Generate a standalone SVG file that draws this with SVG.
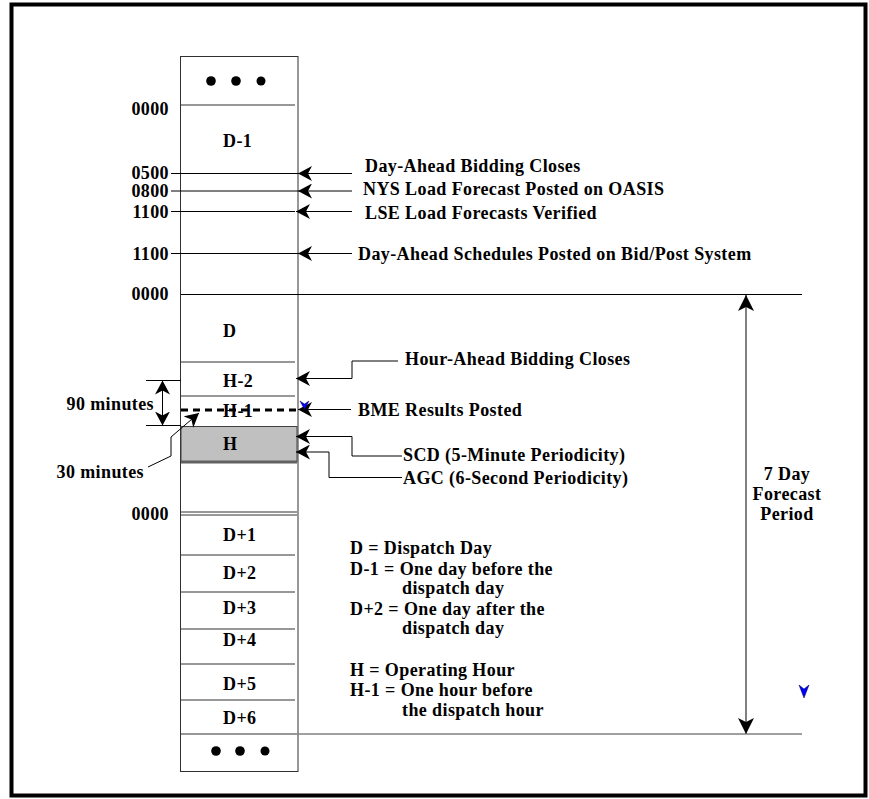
<svg xmlns="http://www.w3.org/2000/svg" width="869" height="799" viewBox="0 0 869 799">
<style>
text{font-family:"Liberation Serif","Times New Roman",serif;font-weight:bold;font-size:18px;letter-spacing:0.4px;fill:#000}
.lbl{text-anchor:end}
.cell{fill:none;stroke:#303030;stroke-width:1}
.sep{stroke:#303030;stroke-width:1;fill:none}
.con{stroke:#000;stroke-width:1;fill:none}
.arr{marker-end:url(#ah)}
.dot{fill:#000}
.blue{fill:#0000ff;stroke:#000040;stroke-width:0.5}
</style>
<defs>
<marker id="ah" viewBox="0 0 14 15" refX="14" refY="7.5" markerWidth="14" markerHeight="15" markerUnits="userSpaceOnUse" orient="auto">
<path d="M0,0 L14,7.5 L0,15 L4,7.5 z" fill="#000"/>
</marker>
<marker id="ahb" viewBox="0 0 16 16" refX="16" refY="8" markerWidth="16" markerHeight="16" markerUnits="userSpaceOnUse" orient="auto">
<path d="M0,0 L16,8 L0,16 L4,8 z" fill="#000"/>
</marker>
</defs>
<rect id="frame" x="11.5" y="4.5" width="854" height="791" fill="#fff" stroke="#000" stroke-width="4"/>

<g id="column">
<rect x="180.5" y="56.5" width="117.5" height="715" class="cell"/>
<g id="cell-top-dots"><circle class="dot" cx="211" cy="81" r="4.8"/><circle class="dot" cx="236" cy="81" r="4.8"/><circle class="dot" cx="261" cy="81" r="4.5"/></g>
<g id="cell-D-1"><line class="sep" x1="181" y1="105" x2="295" y2="105"/><text x="223" y="147">D-1</text></g>
<g id="cell-D"><text x="223" y="337">D</text></g>
<g id="cell-H-2"><line class="sep" x1="181" y1="362" x2="295" y2="362"/><text x="223" y="387">H-2</text></g>
<g id="cell-H-1"><line class="sep" x1="181" y1="396" x2="295" y2="396"/><text x="223" y="417">H-1</text>
<line x1="181" y1="410" x2="297" y2="410" stroke="#000" stroke-width="3" stroke-dasharray="7,5"/></g>
<g id="cell-H"><rect x="181" y="426.5" width="116" height="35" fill="#c0c0c0" stroke="#404040" stroke-width="1"/><line x1="181" y1="462" x2="297" y2="462" stroke="#606060" stroke-width="3"/><text x="223" y="450">H</text></g>
<g id="cell-D+1"><line class="sep" x1="181" y1="512" x2="297" y2="512"/><line class="sep" x1="181" y1="515" x2="297" y2="515"/><text x="223" y="541">D+1</text></g>
<g id="cell-D+2"><line class="sep" x1="181" y1="555" x2="295" y2="555"/><text x="223" y="579">D+2</text></g>
<g id="cell-D+3"><line class="sep" x1="181" y1="592" x2="295" y2="592"/><text x="223" y="614">D+3</text></g>
<g id="cell-D+4"><line class="sep" x1="181" y1="629" x2="295" y2="629"/><text x="223" y="646">D+4</text></g>
<g id="cell-D+5"><line class="sep" x1="181" y1="664" x2="295" y2="664"/><text x="223" y="690">D+5</text></g>
<g id="cell-D+6"><line class="sep" x1="181" y1="700" x2="295" y2="700"/><text x="223" y="724">D+6</text></g>
<g id="cell-bottom-dots"><line class="sep" x1="181" y1="734" x2="296" y2="734"/><circle class="dot" cx="216" cy="751" r="4.8"/><circle class="dot" cx="240" cy="751" r="4.8"/><circle class="dot" cx="265" cy="751" r="4.5"/></g>
</g>

<g id="time-labels">
<text class="lbl" x="169" y="115">0000</text>
<text class="lbl" x="169" y="179">0500</text>
<text class="lbl" x="169" y="197">0800</text>
<text class="lbl" x="169" y="218">1100</text>
<text class="lbl" x="169" y="260">1100</text>
<text class="lbl" x="169" y="300">0000</text>
<text class="lbl" x="169" y="520">0000</text>
</g>

<g id="event-labels">
<text x="365" y="172">Day-Ahead Bidding Closes</text>
<text x="363" y="195">NYS Load Forecast Posted on OASIS</text>
<text x="365" y="219">LSE Load Forecasts Verified</text>
<text x="358" y="260">Day-Ahead Schedules Posted on Bid/Post System</text>
<text x="405" y="365">Hour-Ahead Bidding Closes</text>
<text x="358" y="416">BME Results Posted</text>
<text x="403" y="461">SCD (5-Minute Periodicity)</text>
<text x="403" y="484">AGC (6-Second Periodicity)</text>
</g>

<g id="duration-labels">
<text class="lbl" x="154" y="410">90 minutes</text>
<text class="lbl" x="144" y="478">30 minutes</text>
<text x="787" y="480" text-anchor="middle">7 Day</text>
<text x="787" y="500" text-anchor="middle">Forecast</text>
<text x="787" y="520" text-anchor="middle">Period</text>
</g>

<g id="legend">
<text x="350" y="554">D = Dispatch Day</text>
<text x="350" y="575">D-1 = One day before the</text>
<text x="402" y="594">dispatch day</text>
<text x="350" y="615">D+2 = One day after the</text>
<text x="402" y="634">dispatch day</text>
<text x="350" y="676">H = Operating Hour</text>
<text x="350" y="696">H-1 = One hour before</text>
<text x="402" y="716">the dispatch hour</text>
</g>

<g id="connectors">
<line class="con" x1="171" y1="173.5" x2="298" y2="173.5"/><path class="con arr" d="M352,173.5 H298"/>
<line class="con" x1="171" y1="191" x2="298" y2="191"/><path class="con arr" d="M352,191 H298"/>
<line class="con" x1="171" y1="211.5" x2="295" y2="211.5"/><path class="con arr" d="M352,211.5 H296"/>
<line class="con" x1="171" y1="253.5" x2="298" y2="253.5"/><path class="con arr" d="M352,253.5 H298"/>
<line class="con" x1="181" y1="294.5" x2="802" y2="294.5"/>
<line x1="296" y1="734" x2="802" y2="734" stroke="#808080" stroke-width="1.5"/>
<path class="con arr" d="M398,361 H352 V378.5 H296"/>
<path class="con arr" d="M351,409.5 H298"/>
<path class="con arr" d="M402,456 H352 V436.5 H296"/>
<path class="con arr" d="M402,477.5 H329 V452 H296"/>
<line class="con" x1="146" y1="380.5" x2="181" y2="380.5"/>
<line class="con" x1="146" y1="425.5" x2="181" y2="425.5"/>
<path class="con arr" d="M162.5,403 V380.5"/>
<path class="con arr" d="M162.5,403 V425.5"/>
<path class="con arr" d="M148,467 L171,456 V437 L199,413"/>
<path d="M746,515 V295" stroke="#808080" stroke-width="2" fill="none" marker-end="url(#ahb)"/>
<path d="M746,515 V734" stroke="#808080" stroke-width="2" fill="none" marker-end="url(#ahb)"/>
<polygon class="blue" points="300,401 304.5,404 309,401 304.5,409.5"/>
<polygon class="blue" points="799,685 804,689 809,685 804,698"/>
</g>
</svg>
